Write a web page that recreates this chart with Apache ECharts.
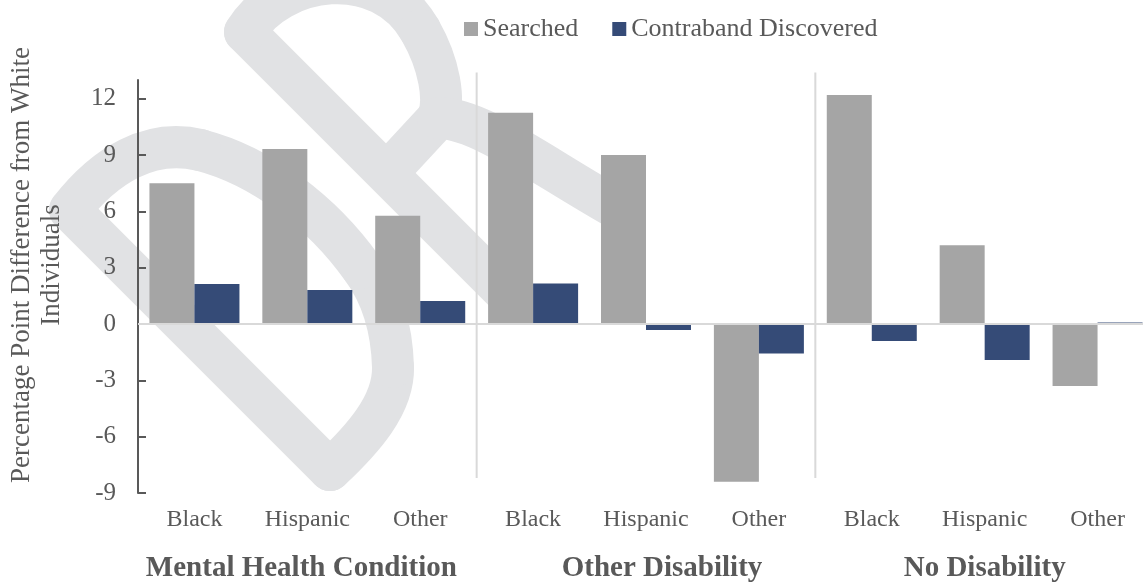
<!DOCTYPE html>
<html>
<head>
<meta charset="utf-8">
<script src="https://cdn.jsdelivr.net/npm/echarts@6/dist/echarts.min.js"></script>
<style>
html,body{margin:0;padding:0;background:#fff;overflow:hidden;width:1143px;height:585px;}
#chart{width:1154px;height:585px;}
</style>
</head>
<body>
<div id="chart"></div>
<script>
// ---- data ----
var categories = ['Black','Hispanic','Other','Black','Hispanic','Other','Black','Hispanic','Other'];
var groups = ['Mental Health Condition','Other Disability','No Disability'];
var searched = [7.5, 9.33, 5.77, 11.25, 9.0, -8.4, 12.2, 4.2, -3.3];
var contraband = [2.13, 1.81, 1.23, 2.16, -0.32, -1.57, -0.9, -1.92, 0.08];
var yTicks = [-9, -6, -3, 0, 3, 6, 9, 12];
var groupBoundaries = [2, 5]; // last category index of each group before a divider

var FONT = '"Liberation Serif","Times New Roman",serif';
var TXT = '#595959';
var WM = '#e1e2e4';

// background watermark strokes (decoration)
function seg(a, b) {
  return {type: 'line', z: -10, silent: true, shape: {x1: a[0], y1: a[1], x2: b[0], y2: b[1]},
    style: {stroke: WM, lineWidth: 42, lineCap: 'round'}};
}
function bz(a, c1, c2, b) {
  return {type: 'bezierCurve', z: -10, silent: true,
    shape: {x1: a[0], y1: a[1], cpx1: c1[0], cpy1: c1[1], cpx2: c2[0], cpy2: c2[1], x2: b[0], y2: b[1]},
    style: {stroke: WM, lineWidth: 42, lineCap: 'round', fill: null}};
}
var watermark = [
  seg([70,210],[330,470]),
  bz([330,470],[362,440],[394,405],[393,367]),
  bz([393,367],[392,330],[382,295],[362,268]),
  bz([362,268],[322,212],[262,166],[200,150]),
  bz([200,150],[150,138],[105,165],[70,210]),
  seg([245,32],[505,292]),
  bz([245,32],[280,-25],[380,-40],[420,30]),
  bz([420,30],[440,65],[445,100],[438,118]),
  seg([438,118],[388,172]),
  bz([438,118],[480,118],[540,165],[620,210])
];

// small horizontal nudges of the group labels (to match the original's placement)
var groupShift = [-6, 16, 0];

var chart = echarts.init(document.getElementById('chart'), null, {renderer:'canvas'});

var groupRich = {};
groupShift.forEach(function (s, i) {
  groupRich['g' + i] = {
    fontFamily: FONT, fontSize: 29, fontWeight: 'bold', color: TXT,
    padding: s >= 0 ? [0, 0, 0, 2 * s] : [0, -2 * s, 0, 0]
  };
});

var option = {
  backgroundColor: '#ffffff',
  animation: false,
  textStyle: {fontFamily: FONT},
  legend: {
    left: 459, top: 11,
    itemWidth: 14, itemHeight: 14, itemGap: 34,
    icon: 'rect',
    textStyle: {fontFamily: FONT, fontSize: 26, color: TXT},
    data: ['Searched','Contraband Discovered']
  },
  grid: {left: 138, right: 0, top: 80, bottom: 92, containLabel: false},
  xAxis: [{
    type: 'category',
    data: categories,
    axisLine: {show: false, onZero: false},
    axisTick: {show: false},
    axisLabel: {fontFamily: FONT, fontSize: 24, color: TXT, margin: 15, interval: 0}
  }, {
    type: 'category',
    data: groups,
    position: 'bottom',
    axisLine: {show: false, onZero: false},
    axisTick: {show: false},
    axisLabel: {
      fontFamily: FONT, fontSize: 29, fontWeight: 'bold', color: TXT, margin: 61, interval: 0,
      formatter: function (v, i) { return '{g' + i + '|' + v + '}'; },
      rich: groupRich
    }
  }],
  yAxis: {
    type: 'value',
    min: -9, max: 13, interval: 1,
    splitLine: {show: false},
    axisLine: {show: true, lineStyle: {color: TXT, width: 2}},
    axisTick: {show: true, inside: true, length: 8, lineStyle: {color: TXT, width: 2}, customValues: yTicks},
    axisLabel: {fontFamily: FONT, fontSize: 25, color: TXT, margin: 22, customValues: yTicks}
  },
  graphic: watermark.concat([
    {
      type: 'text', silent: true,
      x: 37, y: 265, rotation: Math.PI / 2,
      style: {
        text: 'Percentage Point Difference from White\nIndividuals',
        fontFamily: FONT, fontSize: 27, lineHeight: 30, fill: TXT,
        align: 'center', verticalAlign: 'middle'
      }
    }
  ]),
  series: [
    {
      name: 'Searched', type: 'bar', data: searched,
      barWidth: 45, barGap: '0%',
      itemStyle: {color: '#a5a5a5'},
      markLine: {
        silent: true, symbol: 'none', label: {show: false},
        lineStyle: {color: '#d9d9d9', width: 2, type: 'solid'},
        data: [{yAxis: 0}]
      }
    },
    {
      name: 'Contraband Discovered', type: 'bar', data: contraband,
      barWidth: 45, barGap: '0%',
      itemStyle: {color: '#354b77'}
    },
    {
      type: 'custom', silent: true, legendHoverLink: false,
      data: groupBoundaries.map(function (i) { return [i]; }),
      renderItem: function (params, api) {
        var idx = api.value(0);
        var top = api.coord([idx, 13.4]);
        var bot = api.coord([idx, -8.2]);
        var bw = api.size([1, 0])[0];
        var x = top[0] + bw / 2;
        return {
          type: 'line',
          shape: {x1: x, y1: top[1], x2: x, y2: bot[1]},
          style: {stroke: '#d9d9d9', lineWidth: 2}
        };
      },
      z: 1
    }
  ]
};
chart.setOption(option);
</script>
</body>
</html>
